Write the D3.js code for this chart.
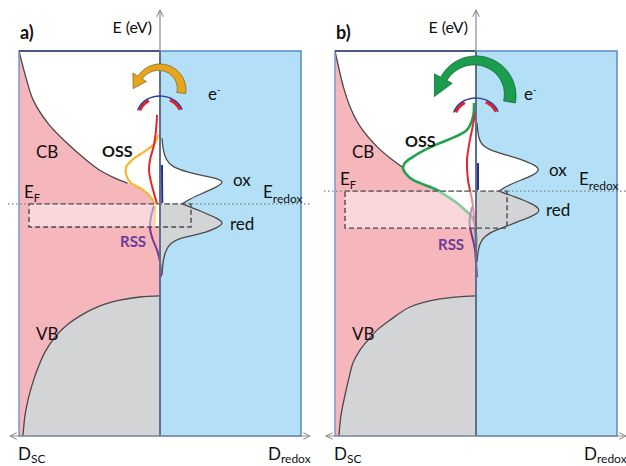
<!DOCTYPE html>
<html lang="en">
<head>
<meta charset="utf-8">
<script src="https://cdn.jsdelivr.net/npm/d3@7"></script>
<style>
  body { margin: 0; background: #fff; }
  svg { font-family: Lato, 'Noto Sans', sans-serif; }
  .curve { fill: none; stroke: #4a4a4a; stroke-width: 1.3px; }
  .lbl { font-size: 17px; fill: #111; }
  .bold { font-weight: bold; }
</style>
</head>
<body>
<svg width="626" height="466"></svg>
<script>
// energy: 0 = box bottom, 100 = box top; density: 0 = axis, 100 = box edge
// each point is [density, energy]
const cbA = [[100,100],[95,93],[90,87.3],[79,81],[66,76.1],[54,72.2],[43,69.1],[32,67],[23,65.7]];
const cbB = [[100,100],[97,95.1],[94,90.6],[89,85.2],[82,80.3],[70,75.1],[61,72.2],[52.5,69.9]];
const vbA = [[97.2,0],[95.7,5.5],[93.6,9.4],[90.8,13.2],[87.2,17.1],[81.6,21.8],[74.5,25.7],[66,28.8],[56.7,31.2],[42.6,33.8],[28.4,35.3],[14.2,36.1],[0,36.4]];
const vbB = [[97.2,0],[95.7,5.5],[92.9,10.6],[90.1,15.1],[87.2,19],[82.3,22.3],[76.6,24.9],[70.2,27.5],[61,30.1],[46.8,33.5],[25.5,35.6],[0,36.4]];

// oxidising surface states (yellow in a, green in b)
const ossA = [[1.4,78.2],[3.5,76.1],[10.6,74],[19,71.9],[24,69.9],[24,67.8],[20.6,65.7],[12,63.9],[5.7,61.6],[3.5,59.7],[3.5,57.4],[4.3,54.3]];
const ossB = [[1.4,86.5],[2.1,82.9],[6.4,79.5],[14.9,77.7],[25.5,76.1],[36.2,74.3],[44.7,72.5],[50.4,70.9],[51.8,69.6],[48.9,67.8],[44.7,66.5],[36.2,65.2],[27.7,63.9],[19.9,62.1],[13.5,60.5],[7.8,58.7],[2.8,56.9],[0.7,54.8],[0,50.9],[0,49.1]];
// red state curve
const rsA = [[2.1,83.4],[2.8,79.5],[4.3,75.6],[7.1,71.7],[7.8,69.1],[6.4,66],[4.3,63.1],[2.1,60.3]];
const rsB = [[0.7,83.9],[2.1,80.8],[4.3,76.9],[6.4,71.7],[5.7,66.5],[2.8,61.3],[1.4,56.9],[0,52.7]];
// reducing surface states
const rssA = [[4.3,59.7],[6.4,56.9],[7.1,54],[5,50.9],[2.1,48.3],[0,45.2],[-0.7,41.3]];
const rssB = [[2.8,59.5],[4.3,56.9],[4.3,54.3],[2.1,50.9],[0.7,48.3],[0,45.2],[-0.7,41.3]];
const navyA = [[-1.4,70.4],[-1.6,60.5]];
const navyB = [[-1.4,70.9],[-1.4,63.9]];

// redox couple distributions
const oxA = [[1.4,77.4],[2.1,74.3],[4.3,71.7],[8.5,69.9],[19.1,68.6],[31.9,67.5],[41.1,66.8],[45.5,66],[40.5,64.7],[30.5,63.1],[21.3,61.6],[15.6,60.3]];
const oxB = [[0.7,81.3],[1.4,78.2],[3.5,75.6],[11.3,74],[24.1,72.7],[36.9,71.2],[47,69.4],[39.5,67.5],[28.4,66],[20.6,64.7],[16.3,63.6]];
const redA = [[15.6,60.3],[30.5,58.2],[41.5,56.4],[45.5,55.3],[40,54],[33.3,53],[21.3,51.9],[14.2,51.4],[7.1,50.1],[4.3,48.3],[2.1,45.7],[1.4,41.8]];
const redB = [[16.3,63.6],[27.7,62.1],[38.8,60.5],[47,58.7],[40.2,57.1],[29.1,55.6],[22,54.5],[9.9,53],[3.5,50.9],[1.4,48.3],[0.7,45.2]];

const eLevel = [60.3, 63.6];              // E_F = E_redox
const windowLow = [54.3, 54];             // bottom of dashed window
const windowD = [92.9, 22];               // window extent: SC side, redox side
const ossColor = ["#f6b82c", "#1fa34c"];

const svg = d3.select("svg");
const Y_TOP = 51, Y_BOT = 436, HALF = 141;
const centers = [160, 476];

const defs = svg.append("defs");
defs.append("marker").attr("id", "open").attr("viewBox", "0 0 10 10")
  .attr("refX", 9).attr("refY", 5).attr("markerWidth", 7).attr("markerHeight", 7)
  .attr("orient", "auto-start-reverse")
  .append("path").attr("d", "M1,1 L9,5 L1,9").attr("fill", "none")
  .attr("stroke", "#8c8c8c").attr("stroke-width", 1.2);

function arrowPath(cx, cy, ro, w0, w1, a0, a1, headIn, headOut, headLen) {
  const rad = d => d * Math.PI / 180;
  const pt = (r, a) => [cx + r * Math.cos(rad(a)), cy - r * Math.sin(rad(a))];
  const n = 30, outer = [], inner = [];
  for (let i = 0; i <= n; i++) {
    const a = a0 + (a1 - a0) * i / n, w = w0 + (w1 - w0) * i / n;
    outer.push(pt(ro, a));
    inner.push(pt(ro - w, a));
  }
  const riEnd = ro - w1;
  const b1 = pt(ro + headOut, a1), b2 = pt(riEnd - headIn, a1);
  const mid = pt((ro + riEnd) / 2, a1);
  const t = [-Math.sin(rad(a1)), -Math.cos(rad(a1))];
  const tip = [mid[0] + t[0] * headLen, mid[1] + t[1] * headLen];
  const pts = outer.concat([b1, tip, b2], inner.reverse());
  return "M" + pts.map(p => p[0].toFixed(1) + "," + p[1].toFixed(1)).join("L") + "Z";
}

function arcPath(cx, cy, rx, ry, a0, a1) {
  const pts = d3.range(0, 21).map(i => {
    const a = (a0 + (a1 - a0) * i / 20) * Math.PI / 180;
    return [cx + rx * Math.cos(a), cy - ry * Math.sin(a)];
  });
  return d3.line()(pts);
}

function panel(k, d) {
  const cx = centers[k];
  const g = svg.append("g");
  const y = d3.scaleLinear().domain([0, 100]).range([Y_BOT, Y_TOP]);
  const xs = d3.scaleLinear().domain([0, 100]).range([cx, cx - HALF]);
  const xr = d3.scaleLinear().domain([0, 100]).range([cx, cx + HALF]);
  const cr = d3.curveCatmullRom, cb = d3.curveBasis;
  const areaS = d3.area().curve(cr).y(p => y(p[1])).x0(cx).x1(p => xs(p[0]));
  const areaR = d3.area().curve(cb).y(p => y(p[1])).x0(cx).x1(p => xr(p[0]));
  const lineS = d3.line().curve(cr).x(p => xs(p[0])).y(p => y(p[1]));
  const lineR = d3.line().curve(cb).x(p => xr(p[0])).y(p => y(p[1]));

  // halves
  g.append("rect").attr("x", cx).attr("y", Y_TOP).attr("width", HALF).attr("height", Y_BOT - Y_TOP)
    .attr("fill", "#b3e0f6");
  g.append("rect").attr("x", cx - HALF).attr("y", Y_TOP).attr("width", HALF).attr("height", Y_BOT - Y_TOP)
    .attr("fill", "#f5b6bc");

  // CB, OSS interior, VB
  g.append("path").attr("d", areaS(d.cb)).attr("fill", "#fff");
  g.append("path").attr("d", areaS(d.oss)).attr("fill", "#fff");
  g.append("path").attr("d", areaS(d.vb)).attr("fill", "#d3d4d6");
  g.append("path").attr("class", "curve").attr("d", lineS(d.cb));
  g.append("path").attr("class", "curve").attr("d", lineS(d.vb));

  // redox distributions
  g.append("path").attr("d", areaR(d.red)).attr("fill", "#d3d4d6");
  g.append("path").attr("d", areaR(d.ox)).attr("fill", "#fff");
  g.append("path").attr("class", "curve").attr("d", lineR(d.ox));
  g.append("path").attr("class", "curve").attr("d", lineR(d.red));

  // surface states
  g.append("path").attr("d", lineS(d.oss)).attr("fill", "none")
    .attr("stroke", ossColor[k]).attr("stroke-width", k ? 2.6 : 2.2);
  g.append("path").attr("d", lineS(d.rs)).attr("fill", "none")
    .attr("stroke", "#e6262b").attr("stroke-width", 2);
  g.append("path").attr("d", lineS(d.rss)).attr("fill", "none")
    .attr("stroke", "#6e3a98").attr("stroke-width", 2);

  // dashed window
  const wy0 = y(eLevel[k]), wy1 = y(windowLow[k]);
  g.append("rect").attr("x", xs(windowD[0])).attr("y", wy0)
    .attr("width", cx - xs(windowD[0])).attr("height", wy1 - wy0)
    .attr("fill", "#fff").attr("fill-opacity", 0.45);
  g.append("rect").attr("x", xs(windowD[0])).attr("y", wy0)
    .attr("width", xr(windowD[1]) - xs(windowD[0])).attr("height", wy1 - wy0)
    .attr("fill", "none").attr("stroke", "#4a4a4a").attr("stroke-width", 1.4)
    .attr("stroke-dasharray", "5,3");

  // box borders
  g.append("rect").attr("x", cx).attr("y", Y_TOP).attr("width", HALF).attr("height", Y_BOT - Y_TOP)
    .attr("fill", "none").attr("stroke", "#5a89c9").attr("stroke-width", 1.5);
  g.append("rect").attr("x", cx - HALF).attr("y", Y_TOP).attr("width", HALF).attr("height", Y_BOT - Y_TOP)
    .attr("fill", "none").attr("stroke", "#7d96cf").attr("stroke-width", 1.5);
  g.append("line").attr("x1", cx - HALF).attr("x2", cx).attr("y1", Y_TOP).attr("y2", Y_TOP)
    .attr("stroke", "#2f3d5e").attr("stroke-width", 1.6);

  // energy axis
  g.append("line").attr("x1", cx).attr("x2", cx).attr("y1", Y_TOP).attr("y2", 10)
    .attr("stroke", "#8c8c8c").attr("stroke-width", 1.2).attr("marker-end", "url(#open)");
  g.append("line").attr("x1", cx).attr("x2", cx).attr("y1", Y_TOP).attr("y2", Y_BOT)
    .attr("stroke", "#5f6f8c").attr("stroke-width", 2);
  g.append("path").attr("d", lineS(d.navy)).attr("fill", "none")
    .attr("stroke", "#2a2f8c").attr("stroke-width", 2);

  // density axis
  g.append("line").attr("x1", cx - 150).attr("x2", cx + 150).attr("y1", Y_BOT).attr("y2", Y_BOT)
    .attr("stroke", "#8c8c8c").attr("stroke-width", 1.2)
    .attr("marker-start", "url(#open)").attr("marker-end", "url(#open)");

  // Fermi / redox level
  g.append("line").attr("x1", cx - 152).attr("x2", cx + 150).attr("y1", wy0).attr("y2", wy0)
    .attr("stroke", "#808080").attr("stroke-width", 1.1).attr("stroke-dasharray", "1.5,2.5");

  // electron transfer arrows
  if (k === 0) {
    g.append("path").attr("d", arrowPath(cx, 90, 26, 9, 5, -8, 148, 5, 6, 13))
      .attr("fill", "#e7a51c").attr("stroke", "#7c6a3a").attr("stroke-width", 0.8);
  } else {
    g.append("path").attr("d", arrowPath(cx, 96, 40, 12, 7, -10, 152, 6, 7, 20))
      .attr("fill", "#1c9c4e").attr("stroke", "#106a38").attr("stroke-width", 0.8);
  }
  const acy = k ? 117 : 115;
  g.append("path").attr("d", arcPath(cx, acy, 21, 17, 18, 62)).attr("fill", "none")
    .attr("stroke", "#e3202a").attr("stroke-width", 3.2);
  g.append("path").attr("d", arcPath(cx, acy, 21, 17, 122, 164)).attr("fill", "none")
    .attr("stroke", "#e3202a").attr("stroke-width", 3.2);
  g.append("path").attr("d", arcPath(cx, acy, 23, 19, 16, 166)).attr("fill", "none")
    .attr("stroke", "#2d3f9c").attr("stroke-width", 1.4);

  // labels
  g.append("text").attr("class", "lbl bold").attr("x", cx - 140).attr("y", 39)
    .style("font-size", "18px").text(panels[k]);
  g.append("text").attr("class", "lbl").attr("x", cx - 8).attr("y", 33)
    .attr("text-anchor", "end").style("font-size", "16px").text("E (eV)");
  g.append("text").attr("class", "lbl").attr("x", cx - 124).attr("y", 158).text("CB");
  g.append("text").attr("class", "lbl bold").attr("x", cx - (k ? 71 : 58)).attr("y", k ? 147 : 157)
    .style("font-size", "16px").text("OSS");
  g.append("text").attr("class", "lbl").attr("x", cx - 124).attr("y", 340).text("VB");
  g.append("text").attr("class", "lbl bold").attr("x", cx - (k ? 38 : 40)).attr("y", k ? 250 : 247)
    .style("fill", "#6e3a98").style("font-size", "15px").text("RSS");
  g.append("text").attr("class", "lbl").attr("x", cx + 73).attr("y", k ? 176 : 186).text("ox");
  g.append("text").attr("class", "lbl").attr("x", cx + 70).attr("y", k ? 216 : 230).text("red");
  const ef = g.append("text").attr("class", "lbl").attr("x", cx - 136).attr("y", wy0 - 6).text("E");
  ef.append("tspan").attr("dy", 4).style("font-size", "11px").text("F");
  const er = g.append("text").attr("class", "lbl").attr("x", cx + 103).attr("y", wy0 - 6).text("E");
  er.append("tspan").attr("dy", 5).style("font-size", "12px").text("redox");
  const el = g.append("text").attr("class", "lbl").attr("x", cx + 48).attr("y", 100).text("e");
  el.append("tspan").attr("dy", -7).style("font-size", "10px").text("-");
  const ds = g.append("text").attr("class", "lbl").attr("x", cx - 142).attr("y", 460).text("D");
  ds.append("tspan").attr("dy", 3).style("font-size", "12px").text("SC");
  const dr = g.append("text").attr("class", "lbl").attr("x", cx + 108).attr("y", 460).text("D");
  dr.append("tspan").attr("dy", 3).style("font-size", "12px").text("redox");
}

const panels = ["a)", "b)"];
panel(0, { cb: cbA, vb: vbA, oss: ossA, rs: rsA, rss: rssA, navy: navyA, ox: oxA, red: redA });
panel(1, { cb: cbB, vb: vbB, oss: ossB, rs: rsB, rss: rssB, navy: navyB, ox: oxB, red: redB });
</script>
</body>
</html>
